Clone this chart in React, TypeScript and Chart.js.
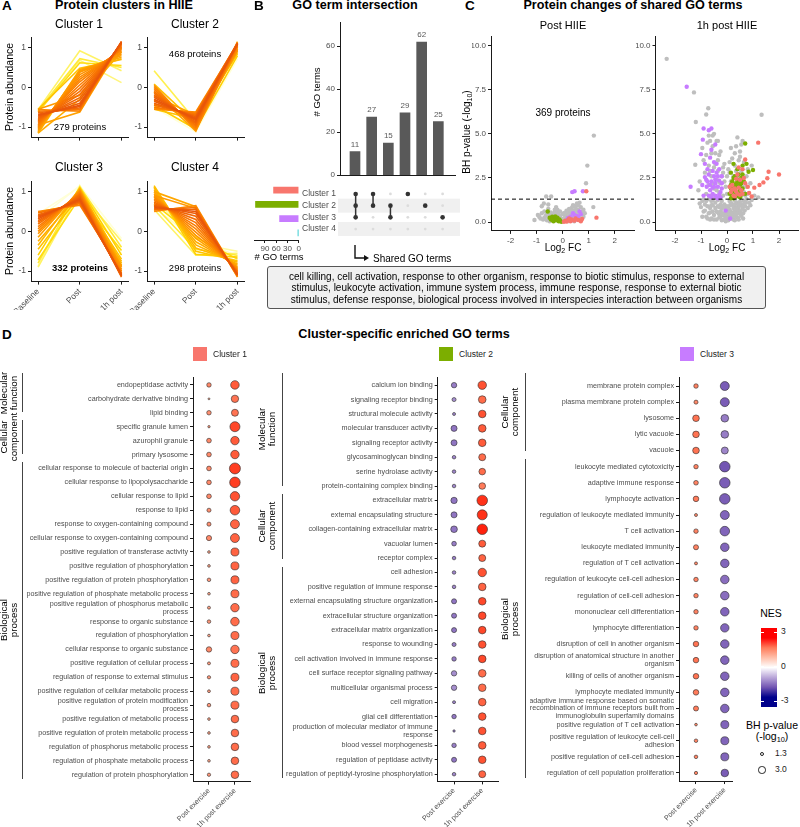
import React, { useEffect, useRef } from 'react';
import { Chart, registerables } from 'chart.js';

Chart.register(...registerables);

const FONT = '"Liberation Sans", Arial, Helvetica, sans-serif';
Chart.defaults.font.family = FONT;
Chart.defaults.font.size = 8;
Chart.defaults.color = '#4D4D4D';

const AXIS = '#1a1a1a';
const TICK_TEXT = '#4D4D4D';

// ---------- A: fuzzy cluster profiles (baseline, post, 1h post) ----------
const timepoints = ['Baseline', 'Post', '1h post'];
const clusterSizes = [279, 468, 332, 298];

const cluster1Profiles = [
  [-0.56, -0.6, 1.15], [-0.6, -0.56, 1.14], [-0.64, -0.52, 1.15], [-0.68, -0.48, 1.14], [-0.7, -0.45, 1.15],
  [-0.73, -0.4, 1.13], [-0.76, -0.33, 1.12], [-0.79, -0.26, 1.1], [-0.82, -0.18, 1.08], [-0.85, -0.1, 1.05],
  [-0.88, -0.02, 1.02], [-0.91, 0.06, 1.0], [-0.94, 0.14, 0.97], [-0.97, 0.2, 0.95], [-1.0, 0.26, 0.92],
  [-1.03, 0.32, 0.88], [-1.06, 0.38, 0.84], [-1.09, 0.42, 0.8], [-1.13, 0.45, 0.76], [-1.15, 0.4, 0.72],
  [-0.95, -0.62, 1.1], [-0.55, 0.48, 0.7], [-0.62, 0.62, 0.55], [-0.58, 0.72, 0.5], [-0.56, 0.92, 0.42],
  [-0.6, 0.68, 0.12], [-1.15, -0.3, 0.9], [-0.55, -0.2, 1.0],
];
const cluster1Membership = [
  0.8, 0.86, 0.92, 0.97, 1.0, 0.97, 0.95, 0.93, 0.91, 0.89, 0.87, 0.85, 0.83, 0.81, 0.79, 0.77, 0.75, 0.73, 0.7, 0.66,
  0.72, 0.6, 0.5, 0.45, 0.4, 0.38, 0.68, 0.74,
];

const cluster2Profiles = [
  [-0.55, -0.62, 1.1], [-0.5, -0.66, 1.12], [-0.45, -0.7, 1.1], [-0.4, -0.74, 1.12], [-0.35, -0.77, 1.1],
  [-0.3, -0.8, 1.1], [-0.25, -0.84, 1.08], [-0.2, -0.88, 1.12], [-0.15, -0.92, 1.06], [-0.1, -0.96, 1.1],
  [-0.05, -1.0, 1.04], [0.0, -1.04, 1.08], [0.05, -1.08, 1.02], [-0.52, -0.64, 0.98], [-0.42, -0.72, 0.96],
  [-0.32, -0.9, 0.92], [-0.22, -0.7, 0.95], [-0.12, -1.1, 1.15], [0.08, -0.9, 0.88], [0.42, -0.85, 1.0],
  [-0.5, -1.12, 0.72], [-0.45, -1.05, 0.8], [-0.55, -0.8, 0.85],
];
const cluster2Membership = [
  0.8, 0.86, 0.91, 0.95, 0.98, 1.0, 0.97, 0.94, 0.91, 0.88, 0.85, 0.82, 0.78, 0.75, 0.8, 0.76, 0.72, 0.7, 0.62, 0.42,
  0.3, 0.55, 0.6,
];

const cluster3Profiles = [
  [0.5, 0.66, -1.0], [0.46, 0.7, -1.05], [0.42, 0.74, -1.08], [0.38, 0.77, -1.1], [0.35, 0.8, -1.1],
  [0.31, 0.83, -1.12], [0.27, 0.86, -1.13], [0.23, 0.89, -1.15], [0.18, 0.92, -1.12], [0.12, 0.95, -1.08],
  [0.06, 0.98, -1.05], [0.0, 1.0, -1.0], [-0.06, 1.02, -0.95], [-0.15, 1.05, -0.9], [-0.25, 0.95, -0.85],
  [-0.35, 1.08, -0.8], [-0.45, 0.9, -0.7], [-0.6, 1.1, -0.6], [-0.72, 0.85, -0.48], [-0.8, 1.12, -0.4],
  [-0.9, 1.0, -0.25], [-0.88, 1.15, -0.85], [0.44, 1.12, -0.55], [0.3, 1.15, -0.18], [0.48, 0.7, -0.75],
  [0.4, 0.72, -0.88],
];
const cluster3Membership = [
  0.82, 0.88, 0.93, 0.97, 1.0, 0.97, 0.94, 0.91, 0.88, 0.85, 0.82, 0.79, 0.76, 0.72, 0.68, 0.64, 0.6, 0.55, 0.5, 0.45,
  0.4, 0.35, 0.3, 0.3, 0.65, 0.75,
];

const cluster4Profiles = [
  [0.5, 0.65, -1.12], [0.54, 0.6, -1.14], [0.57, 0.55, -1.1], [0.6, 0.5, -1.1], [0.63, 0.45, -1.08],
  [0.66, 0.38, -1.06], [0.7, 0.3, -1.04], [0.74, 0.22, -1.02], [0.78, 0.14, -1.0], [0.82, 0.06, -0.98],
  [0.86, -0.02, -0.95], [0.9, -0.1, -0.92], [0.95, -0.18, -0.9], [1.0, -0.26, -0.86], [1.05, -0.34, -0.82],
  [1.1, -0.42, -0.78], [1.15, -0.5, -0.74], [1.12, -0.58, -0.65], [0.7, -0.15, -0.7], [0.65, -0.45, -0.6],
  [0.55, -0.6, -0.55], [0.85, -0.3, -0.5], [0.6, -0.2, -0.62], [1.0, 0.62, -1.15], [0.9, 0.58, -1.12],
];
const cluster4Membership = [
  0.8, 0.88, 0.94, 1.0, 0.97, 0.94, 0.91, 0.88, 0.85, 0.82, 0.79, 0.76, 0.73, 0.7, 0.67, 0.64, 0.6, 0.55, 0.5, 0.45,
  0.4, 0.35, 0.32, 0.7, 0.75,
];

// ---------- B: GO term intersections ----------
const clusterNames = ['Cluster 1', 'Cluster 2', 'Cluster 3', 'Cluster 4'];
const clusterColors = ['#F8766D', '#7CAE00', '#C77CFF', '#00BFC4'];
const clusterSetSizes = [67, 115, 51, 2];
const intersectionCounts = [11, 27, 15, 29, 62, 25];
const intersectionMembers = [[0, 1, 2], [0, 1], [1, 2], [0], [1], [2]];

// ---------- C: volcano plots of shared GO term proteins ----------
const significanceLine = 1.3;
const postGray = [
  [1.2, 4.9], [0.95, 3.2], [0.9, 2.2], [1.18, 0.85], [-1.08, 0.12], [-0.63, 1.45], [-0.44, 1.45], [-0.72, 1.05],
  [-0.8, 0.5], [-0.65, 0.35], [-0.55, 0.75], [-0.5, 0.45], [-0.4, 0.3], [-0.3, 0.55], [-0.25, 0.2], [-0.15, 0.4],
  [-0.05, 0.15], [0.1, 0.3], [0.2, 0.55], [0.3, 0.45], [0.35, 0.8], [0.45, 0.9], [0.5, 0.65], [0.55, 1.05],
  [0.6, 0.7], [0.4, 0.25], [0.25, 0.1], [-0.35, 0.1], [-0.9, 0.3], [0.7, 0.55], [0.65, 1.1], [0.15, 0.65],
  [-0.2, 0.7], [0.05, 0.5], [-0.45, 0.15], [0.45, 0.05], [-0.6, 0.1], [0.8, 0.3],
  [-0.85, 0.2], [-0.75, 0.15], [-0.7, 0.6], [-0.6, 0.45], [-0.5, 0.05], [-0.45, 0.55], [-0.35, 0.35], [-0.3, 0.7],
  [-0.2, 0.5], [-0.1, 0.3], [0.0, 0.45], [0.05, 0.2], [0.15, 0.15], [0.2, 0.35], [0.3, 0.2], [0.35, 0.55],
  [0.4, 0.65], [0.5, 0.45], [0.55, 0.2], [0.6, 0.5], [0.65, 0.3], [0.7, 0.85], [0.75, 0.6], [0.5, 0.85],
  [0.25, 0.75], [-0.1, 0.6], [-0.55, 1.0], [-0.95, 0.4], [0.85, 0.5], [0.6, 0.95], [0.4, 0.95], [-0.25, 0.85],
  [-0.8, 0.9], [-0.7, 0.25], [-0.4, 0.45], [-0.15, 0.15], [0.1, 0.5], [0.3, 0.65], [0.45, 0.3], [0.55, 0.6],
  [0.8, 0.7], [-0.5, 0.3], [0.0, 0.1], [0.2, 0.05],
];
const postGreen = [
  [-0.57, 0.6], [-0.5, 0.25], [-0.45, 0.15], [-0.4, 0.3], [-0.35, 0.05], [-0.3, 0.2], [-0.25, 0.1], [-0.2, 0.25],
  [-0.15, 0.05], [-0.12, 0.15], [-0.05, 0.02], [-0.38, 0.1], [-0.28, 0.32], [-0.1, 0.08],
];
const postRed = [
  [0.91, 1.75], [1.3, 0.25], [0.05, 0.02], [0.1, 0.08], [0.15, 0.03], [0.2, 0.1], [0.3, 0.05], [0.35, 0.15],
  [0.45, 0.08], [0.5, 0.2], [0.6, 0.12], [0.7, 0.05], [0.75, 0.18], [0.25, 0.2],
];
const postPurple = [
  [0.37, 1.7], [0.46, 1.75], [0.78, 1.75], [0.65, 0.6], [0.7, 0.45], [0.55, 0.35], [0.4, 0.5], [0.3, 0.3],
  [0.5, 0.15], [0.2, 0.22], [0.6, 0.25], [0.45, 0.4], [0.35, 0.1],
];
const hourGray = [
  [-2.32, 9.25], [-1.27, 7.35], [-0.72, 6.45], [-0.8, 6.1], [-1.2, 5.67], [1.33, 6.08], [0.6, 4.6], [-1.22, 3.25],
  [-0.95, 4.2], [-0.75, 4.5], [-0.65, 4.6], [-0.55, 4.3], [-0.45, 3.9], [-0.9, 3.5], [-0.7, 3.2], [-0.5, 3.1],
  [-0.35, 2.9], [-0.6, 2.6], [-0.4, 2.4], [-0.25, 2.2], [-0.7, 2.1], [-0.5, 1.9], [-0.3, 1.7], [-0.15, 1.5],
  [-0.45, 1.4], [-0.2, 1.2], [-0.1, 1.0], [-0.35, 0.9], [-0.05, 0.7], [-0.25, 0.6], [-0.15, 0.4], [0.0, 0.2],
  [-0.05, 0.05], [0.05, 0.1], [0.1, 0.35], [0.15, 0.6], [0.05, 0.8], [0.2, 1.0], [0.1, 1.2], [0.3, 1.25],
  [0.25, 0.5], [0.35, 0.85], [-0.4, 0.6], [-0.55, 0.95], [-0.3, 0.25], [0.4, 1.1], [0.45, 0.7], [-0.9, 0.6],
  [-1.0, 0.85], [0.6, 1.0], [0.5, 1.4], [0.7, 1.5], [0.8, 1.6], [0.6, 2.0], [0.4, 2.5], [0.55, 2.9], [0.3, 3.2],
  [0.45, 3.5], [0.65, 3.4], [0.2, 3.6], [0.5, 4.0], [0.8, 3.0], [0.9, 2.2], [1.05, 1.5], [-0.15, 2.8], [-0.05, 2.0],
  [-0.1, 3.3], [-0.35, 3.5], [-0.25, 4.0], [-0.85, 2.8], [-1.05, 2.3], [-0.8, 1.6], [-0.6, 1.2], [-0.75, 0.9],
  [0.0, 1.6], [0.15, 2.3], [0.05, 3.0], [0.3, 1.8], [0.75, 2.6], [0.95, 3.2], [-0.5, 5.0], [-0.35, 4.6], [0.35, 4.3],
  [-1.1, 1.8], [-0.95, 1.2], [0.85, 1.1], [1.2, 1.4], [0.25, 0.15], [-0.2, 0.1],
  [-0.8, 0.3], [-0.7, 0.5], [-0.6, 0.2], [-0.5, 0.4], [-0.45, 0.8], [-0.4, 0.15], [-0.3, 0.45], [-0.25, 1.0],
  [-0.2, 0.75], [-0.1, 0.5], [-0.05, 0.3], [0.0, 0.45], [0.05, 0.5], [0.1, 0.7], [0.15, 0.2], [0.2, 0.4],
  [0.25, 0.8], [0.3, 0.6], [0.35, 0.3], [0.4, 0.5], [0.45, 0.9], [0.5, 0.6], [0.55, 0.35], [0.6, 0.75],
  [0.65, 1.2], [0.7, 0.9], [0.75, 1.3], [-0.65, 0.8], [-0.7, 1.3], [-0.85, 1.0], [-0.55, 1.25], [-0.35, 1.25],
  [0.5, 1.15], [0.35, 1.05], [0.15, 1.1], [0.0, 0.9], [-0.15, 0.9], [-0.6, 1.5], [-0.4, 1.8], [-0.3, 2.3],
  [-0.2, 2.6], [-0.1, 2.3], [0.0, 2.6], [0.1, 2.8], [0.2, 2.0], [0.25, 2.6], [0.35, 2.9], [0.45, 2.2],
  [0.55, 2.0], [0.65, 1.7], [0.75, 2.0], [-0.55, 2.2], [-0.65, 2.9], [-0.45, 3.3], [-0.3, 3.8], [-0.15, 3.1],
  [0.1, 3.4], [0.3, 3.9], [0.5, 3.7], [-0.6, 3.9], [-0.8, 3.8], [-0.4, 4.6], [-0.55, 4.9], [-0.7, 4.9],
  [0.15, 4.2], [0.4, 4.8], [0.55, 4.4],
  [-0.95, 0.3], [-0.85, 0.65], [-0.75, 0.2], [-0.65, 0.55], [-0.55, 0.6], [-0.5, 0.15], [-0.45, 1.1], [-0.35, 0.55],
  [-0.3, 0.85], [-0.25, 0.3], [-0.2, 0.5], [-0.12, 0.15], [-0.08, 0.85], [0.02, 0.6], [0.08, 0.25], [0.12, 0.95],
  [0.18, 0.5], [0.22, 0.25], [0.28, 1.0], [0.32, 0.4], [0.38, 0.7], [0.42, 0.25], [0.48, 1.0], [0.52, 0.45],
  [0.58, 0.9], [0.62, 0.5], [0.68, 0.65], [0.72, 1.1], [0.8, 0.8], [0.9, 0.95], [-1.05, 1.05], [-0.9, 1.3],
  [-0.8, 1.2], [0.95, 1.25], [-0.6, 0.95], [0.3, 0.1], [-0.1, 0.15], [0.45, 0.15], [0.62, 0.2], [-0.65, 0.15],
];
const hourPurple = [
  [-1.55, 7.67], [-1.4, 2.0], [-0.9, 5.3], [-0.6, 5.3], [-0.7, 5.2], [-0.93, 4.67], [-1.0, 3.85], [-0.65, 3.65],
  [-0.55, 2.9], [-0.85, 2.55], [-0.3, 2.35], [-0.78, 2.0], [-0.55, 1.6], [-0.25, 1.4], [-0.45, 4.4], [-0.6, 4.1],
  [-0.4, 3.3], [-0.75, 3.0], [-0.5, 2.6], [-0.35, 2.0], [-0.65, 1.8], [-0.45, 1.5], [-0.2, 1.9], [-0.3, 1.55],
  [-0.6, 2.3], [-0.4, 2.8], [-0.7, 2.7], [-0.2, 2.6], [-0.5, 3.4], [-0.85, 3.3], [0.12, 0.2], [-0.05, 0.65],
  [-0.95, 2.1], [-0.35, 1.35],
  [-0.9, 1.5], [-0.8, 2.4], [-0.7, 1.5], [-0.55, 1.95], [-0.45, 2.2], [-0.35, 2.6], [-0.25, 1.7], [-0.5, 2.0],
  [-0.65, 2.1], [-0.3, 3.0], [-0.45, 2.4], [-0.6, 1.4], [-0.4, 1.4], [-0.2, 2.2], [-0.75, 2.3],
];
const hourGreen = [
  [0.7, 4.45], [0.25, 3.3], [0.83, 2.85], [1.0, 2.95], [0.15, 2.8], [0.3, 2.6], [0.45, 2.7], [0.55, 2.5],
  [0.2, 2.3], [0.35, 2.2], [0.5, 2.1], [0.65, 2.3], [0.15, 1.9], [0.3, 1.8], [0.45, 1.7], [0.6, 1.9], [0.2, 1.5],
  [0.35, 1.45], [0.5, 1.4], [0.25, 1.35], [0.4, 3.0], [0.6, 3.2], [0.75, 3.3], [0.1, 1.6], [0.55, 1.55],
  [0.4, 2.0], [0.25, 2.0], [0.7, 1.6], [0.15, 1.35],
  [0.2, 1.7], [0.3, 2.05], [0.4, 2.4], [0.5, 1.85], [0.35, 1.6], [0.45, 2.3], [0.25, 2.5], [0.6, 2.7],
  [0.15, 2.1], [0.55, 2.2],
];
const hourRed = [
  [1.2, 4.5], [2.0, 2.7], [1.6, 2.85], [1.55, 2.48], [1.4, 2.25], [1.25, 2.1], [1.05, 1.95], [0.7, 3.55],
  [0.6, 3.0], [0.35, 2.45], [0.2, 2.1], [0.4, 1.6], [0.55, 1.8], [0.8, 2.0], [0.25, 1.5], [0.15, 1.7], [0.5, 2.4],
  [0.3, 1.9], [0.85, 1.65], [0.65, 2.5], [0.1, 2.0], [0.45, 3.1], [0.95, 1.45],
  [0.3, 1.45], [0.45, 1.95], [0.6, 1.6], [0.2, 1.85], [0.5, 1.55], [0.7, 2.2], [0.4, 2.7], [0.35, 1.75],
];
const sharedTerms = [
  'cell killing, cell activation, response to other organism, response to biotic stimulus, response to external',
  'stimulus, leukocyte activation, immune system process, immune response, response to external biotic',
  'stimulus, defense response, biological process involved in interspecies interaction between organisms',
];

// ---------- D: cluster-specific enriched GO terms ----------
const exerciseLabels = ['Post exercise', '1h post exercise'];
const NES_LIMIT = 3;

const cluster1Terms = [
  'endopeptidase activity', 'carbohydrate derivative binding', 'lipid binding',
  'specific granule lumen', 'azurophil granule', 'primary lysosome',
  'cellular response to molecule of bacterial origin', 'cellular response to lipopolysaccharide',
  'cellular response to lipid', 'response to lipid', 'response to oxygen-containing compound',
  'cellular response to oxygen-containing compound', 'positive regulation of transferase activity',
  'positive regulation of phosphorylation', 'positive regulation of protein phosphorylation',
  'positive regulation of phosphate metabolic process', 'positive regulation of phosphorus metabolic\nprocess',
  'response to organic substance', 'regulation of phosphorylation', 'cellular response to organic substance',
  'positive regulation of cellular process', 'regulation of response to external stimulus',
  'positive regulation of cellular metabolic process', 'positive regulation of protein modification\nprocess',
  'positive regulation of metabolic process', 'positive regulation of protein metabolic process',
  'regulation of phosphorus metabolic process', 'regulation of phosphate metabolic process',
  'regulation of protein phosphorylation',
];
const cluster1Groups: [string, number][] = [['Molecular\nfunction', 3], ['Cellular\ncomponent', 3], ['Biological\nprocess', 23]];
const cluster1PostNES = [1.8, 1.4, 1.7, 1.5, 1.8, 1.8, 1.8, 1.8, 1.8, 1.7, 1.7, 1.8, 1.4, 1.4, 1.6, 1.4, 1.5, 1.6, 1.4, 1.8, 1.5, 1.6, 1.5, 1.6, 1.4, 1.4, 1.4, 1.4, 1.6];
const cluster1PostP = [1.1, 0.2, 1.1, 0.3, 1.2, 1.2, 1.2, 1.2, 1.2, 0.9, 0.9, 1.5, 0.4, 0.4, 0.7, 0.4, 0.5, 0.7, 0.4, 1.6, 0.5, 0.6, 0.45, 0.7, 0.4, 0.4, 0.4, 0.4, 0.6];
const cluster1HourNES = [2.4, 2.1, 2.1, 2.6, 2.4, 2.4, 2.7, 2.7, 2.5, 2.4, 2.3, 2.3, 2.3, 2.3, 2.3, 2.2, 2.2, 2.2, 2.2, 2.1, 2.2, 2.3, 2.2, 2.2, 2.2, 2.2, 2.2, 2.2, 2.2];
const cluster1HourP = [4.0, 3.0, 2.7, 5.5, 3.9, 3.9, 6.6, 6.1, 4.8, 5.0, 4.4, 4.4, 3.5, 3.5, 3.5, 3.5, 3.9, 4.0, 3.5, 3.9, 3.5, 3.5, 3.5, 3.5, 3.2, 3.2, 3.2, 3.2, 3.2];

const cluster2Terms = [
  'calcium ion binding', 'signaling receptor binding', 'structural molecule activity', 'molecular transducer activity',
  'signaling receptor activity', 'glycosaminoglycan binding', 'serine hydrolase activity', 'protein-containing complex binding',
  'extracellular matrix', 'external encapsulating structure', 'collagen-containing extracellular matrix', 'vacuolar lumen',
  'receptor complex', 'cell adhesion', 'positive regulation of immune response', 'external encapsulating structure organization',
  'extracellular structure organization', 'extracellular matrix organization', 'response to wounding',
  'cell activation involved in immune response', 'cell surface receptor signaling pathway', 'multicellular organismal process',
  'cell migration', 'glial cell differentiation', 'production of molecular mediator of immune\nresponse',
  'blood vessel morphogenesis', 'regulation of peptidase activity', 'regulation of peptidyl-tyrosine phosphorylation',
];
const cluster2Groups: [string, number][] = [['Molecular\nfunction', 8], ['Cellular\ncomponent', 5], ['Biological\nprocess', 15]];
const cluster2PostNES = [-1.5, -1.3, -1.4, -1.6, -1.6, -1.4, -1.4, -1.4, -1.6, -1.6, -1.6, -1.5, -1.5, -1.4, -1.4, -1.6, -1.6, -1.6, -1.5, -1.5, -1.3, -1.3, -1.4, -1.6, -1.4, -1.5, -1.6, -1.4];
const cluster2PostP = [1.6, 0.9, 0.5, 2.0, 2.0, 0.7, 0.7, 0.7, 2.2, 2.0, 2.4, 1.2, 0.7, 0.7, 0.7, 1.4, 1.4, 1.4, 0.9, 1.1, 1.6, 1.6, 0.5, 1.1, 0.3, 1.1, 1.4, 0.7];
const cluster2HourNES = [2.5, 2.2, 2.5, 2.4, 2.4, 2.2, 2.2, 2.0, 2.8, 2.8, 2.9, 2.4, 2.3, 2.5, 2.3, 2.6, 2.6, 2.6, 2.5, 2.6, 2.2, 2.2, 2.3, 2.5, 2.5, 2.4, 2.5, 2.3];
const cluster2HourP = [3.9, 3.2, 3.2, 3.2, 3.2, 2.7, 2.4, 2.4, 6.1, 5.5, 6.1, 2.7, 2.7, 3.9, 3.2, 3.2, 3.2, 3.2, 3.2, 3.2, 3.2, 3.2, 3.2, 3.2, 3.2, 3.2, 3.2, 2.7];

const cluster3Terms = [
  'membrane protein complex', 'plasma membrane protein complex', 'lysosome', 'lytic vacuole', 'vacuole',
  'leukocyte mediated cytotoxicity', 'adaptive immune response', 'lymphocyte activation',
  'regulation of leukocyte mediated immunity', 'T cell activation', 'leukocyte mediated immunity',
  'regulation of T cell activation', 'regulation of leukocyte cell-cell adhesion', 'regulation of cell-cell adhesion',
  'mononuclear cell differentiation', 'lymphocyte differentiation', 'disruption of cell in another organism',
  'disruption of anatomical structure in another\norganism', 'killing of cells of another organism',
  'lymphocyte mediated immunity',
  'adaptive immune response based on somatic\nrecombination of immune receptors built from\nimmunoglobulin superfamily domains',
  'positive regulation of T cell activation', 'positive regulation of leukocyte cell-cell\nadhesion',
  'positive regulation of cell-cell adhesion', 'regulation of cell population proliferation',
];
const cluster3Groups: [string, number][] = [['Cellular\ncomponent', 5], ['Biological\nprocess', 20]];
const cluster3PostNES = [1.9, 1.8, 2.1, 2.1, 2.1, 1.9, 1.9, 2.0, 1.8, 1.9, 1.9, 1.8, 1.9, 1.9, 1.9, 1.9, 2.1, 2.1, 2.1, 2.0, 2.0, 1.8, 1.9, 1.9, 1.9];
const cluster3PostP = [1.1, 0.9, 2.4, 2.4, 2.4, 1.1, 1.2, 1.7, 0.5, 1.1, 1.4, 0.5, 1.1, 1.1, 1.1, 1.1, 1.7, 1.7, 1.7, 1.7, 1.4, 0.4, 0.7, 0.7, 0.6];
const cluster3HourNES = [-1.9, -1.9, -1.5, -1.5, -1.4, -2.0, -1.9, -1.9, -1.8, -1.8, -1.8, -1.8, -1.7, -1.7, -1.8, -1.8, -1.8, -1.8, -1.8, -1.8, -1.8, -1.8, -1.8, -1.8, -1.9];
const cluster3HourP = [4.4, 4.4, 3.2, 3.2, 2.7, 6.1, 6.1, 6.1, 4.4, 5.0, 4.0, 4.0, 4.0, 4.0, 4.0, 3.9, 4.0, 4.0, 4.0, 4.0, 4.0, 3.5, 3.5, 3.5, 3.2];

const pLegendValues = [1.3, 3.0];

// ---------- colour helpers ----------
const lin = (c: number) => { c /= 255; return c <= 0.04045 ? c / 12.92 : Math.pow((c + 0.055) / 1.055, 2.4); };
const gam = (c: number) => {
  const v = c <= 0.0031308 ? 12.92 * c : 1.055 * Math.pow(c, 1 / 2.4) - 0.055;
  return Math.round(Math.min(1, Math.max(0, v)) * 255);
};
function toLab(hex: string) {
  const n = parseInt(hex.slice(1), 16);
  const r = lin((n >> 16) & 255), g = lin((n >> 8) & 255), b = lin(n & 255);
  const X = (0.4124 * r + 0.3576 * g + 0.1805 * b) / 0.95047;
  const Y = 0.2126 * r + 0.7152 * g + 0.0722 * b;
  const Z = (0.0193 * r + 0.1192 * g + 0.9505 * b) / 1.08883;
  const f = (t: number) => (t > 0.008856 ? Math.cbrt(t) : 7.787 * t + 16 / 116);
  const fx = f(X), fy = f(Y), fz = f(Z);
  return [116 * fy - 16, 500 * (fx - fy), 200 * (fy - fz)];
}
function fromLab(L: number, a: number, b: number) {
  const fy = (L + 16) / 116, fx = fy + a / 500, fz = fy - b / 200;
  const fi = (t: number) => (t * t * t > 0.008856 ? t * t * t : (t - 16 / 116) / 7.787);
  const X = fi(fx) * 0.95047, Y = fi(fy), Z = fi(fz) * 1.08883;
  const r = 3.2406 * X - 1.5372 * Y - 0.4986 * Z;
  const g = -0.9689 * X + 1.8758 * Y + 0.0415 * Z;
  const bl = 0.0557 * X - 0.204 * Y + 1.057 * Z;
  return `rgb(${gam(r)},${gam(g)},${gam(bl)})`;
}
const LAB_LOW = toLab('#00008B');
const LAB_MID = toLab('#FFFFFF');
const LAB_HIGH = toLab('#FF0000');
function nesColor(v: number) {
  const t = Math.max(-1, Math.min(1, v / NES_LIMIT));
  const end = t >= 0 ? LAB_HIGH : LAB_LOW;
  const k = Math.abs(t);
  return fromLab(
    LAB_MID[0] + (end[0] - LAB_MID[0]) * k,
    LAB_MID[1] + (end[1] - LAB_MID[1]) * k,
    LAB_MID[2] + (end[2] - LAB_MID[2]) * k,
  );
}
const bubbleRadius = (p: number) => 2.14 * Math.sqrt(p);

const membershipStops: [number, number[]][] = [
  [0.3, [255, 255, 215]], [0.42, [255, 240, 80]], [0.52, [255, 215, 0]], [0.62, [255, 190, 0]],
  [0.74, [255, 155, 0]], [0.86, [250, 120, 0]], [1.0, [232, 86, 10]],
];
function membershipColor(m: number) {
  if (m <= membershipStops[0][0]) return `rgb(${membershipStops[0][1].join(',')})`;
  for (let i = 1; i < membershipStops.length; i++) {
    const [m1, c1] = membershipStops[i];
    const [m0, c0] = membershipStops[i - 1];
    if (m <= m1) {
      const k = (m - m0) / (m1 - m0);
      return `rgb(${c0.map((c, j) => Math.round(c + (c1[j] - c) * k)).join(',')})`;
    }
  }
  return `rgb(${membershipStops[membershipStops.length - 1][1].join(',')})`;
}

// ---------- chart option helpers ----------
// Chart.js paints dataset 0 last, so every datasets list below runs from the top layer down.
function baseOptions(padding: any, extra: any) {
  return {
    animation: false,
    responsive: false,
    maintainAspectRatio: false,
    events: [],
    layout: { autoPadding: false, padding: { top: 0, right: 0, bottom: 0, left: 0, ...padding } },
    plugins: { legend: { display: false }, tooltip: { enabled: false } },
    ...extra,
  };
}
function axis(opts: any = {}) {
  const { ticks = {}, grid = {}, border = {}, ...rest } = opts;
  return {
    border: { display: true, color: AXIS, width: 1, ...border },
    grid: { display: true, drawOnChartArea: false, drawTicks: true, tickLength: 3, color: AXIS, ...grid },
    ticks: { color: TICK_TEXT, font: { size: 8 }, padding: 2, autoSkip: false, ...ticks },
    ...rest,
  };
}

function clusterChart(profiles: number[][], membership: number[], showLabels: boolean, xAxisH: number, yAxisW: number) {
  // highest membership first = painted on top
  const order = membership.map((_, i) => i).sort((a, b) => membership[b] - membership[a]);
  const datasets = order.map((i) => ({
    type: 'line',
    data: profiles[i].map((v, t) => ({ x: t, y: v })),
    borderColor: membershipColor(membership[i]),
    borderWidth: 1.6,
    pointRadius: 0,
    tension: 0,
  }));
  return {
    type: 'line',
    data: { datasets },
    options: baseOptions({ top: 6.4, right: 5.4 }, {
      scales: {
        x: axis({
          type: 'linear', min: -0.17, max: 2.17,
          ticks: {
            stepSize: 1, includeBounds: false, minRotation: 45, maxRotation: 45, font: { size: 8.5 },
            callback: (v: number) => (showLabels ? timepoints[v] ?? '' : ''),
          },
          afterFit: (s: any) => { s.height = xAxisH; },
        }),
        y: axis({
          min: -1.265, max: 1.265,
          ticks: { stepSize: 1, includeBounds: false, font: { size: 8.5 } },
          afterFit: (s: any) => { s.width = yAxisW; },
        }),
      },
    }),
  };
}

const barValueLabels = {
  id: 'barValueLabels',
  afterDatasetsDraw(chart: any) {
    const { ctx } = chart;
    const meta = chart.getDatasetMeta(0);
    ctx.save();
    ctx.fillStyle = '#595959';
    ctx.font = `8px ${FONT}`;
    ctx.textAlign = 'center';
    ctx.textBaseline = 'middle';
    meta.data.forEach((el: any, i: number) => {
      ctx.fillText(String(intersectionCounts[i]), el.x, el.y - 7);
    });
    ctx.restore();
  },
};

function upsetBarChart() {
  return {
    type: 'bar',
    data: {
      datasets: [{
        data: intersectionCounts.map((v, i) => ({ x: i, y: v })),
        backgroundColor: '#595959',
        barThickness: 10,
      }],
    },
    options: baseOptions({ top: 7, right: 5 }, {
      scales: {
        x: axis({
          type: 'linear', min: -0.9, max: 6.0, offset: false, bounds: 'data',
          ticks: { display: false }, grid: { display: false, offset: false },
          afterFit: (s: any) => { s.height = 1; },
        }),
        y: axis({ min: 0, max: 71.3, ticks: { stepSize: 20, includeBounds: false }, afterFit: (s: any) => { s.width = 17; } }),
      },
    }),
    plugins: [barValueLabels],
  };
}

const matrixStripes = {
  id: 'matrixStripes',
  beforeDatasetsDraw(chart: any) {
    const { ctx, chartArea, scales } = chart;
    ctx.save();
    ctx.fillStyle = '#F0F0F0';
    clusterNames.forEach((name, i) => {
      if (i % 2 === 1) {
        const y = scales.y.getPixelForValue(i);
        ctx.fillRect(chartArea.left - 2, y - 7, chartArea.right - chartArea.left + 2, 14);
      }
    });
    ctx.restore();
  },
};

function upsetMatrixChart() {
  const empty: any[] = [];
  intersectionCounts.forEach((_, i) => clusterNames.forEach((c) => empty.push({ x: i, y: c })));
  const filled: any[] = [];
  intersectionMembers.forEach((m, i) => m.forEach((k) => filled.push({ x: i, y: clusterNames[k] })));
  const links: any[] = [];
  intersectionMembers.forEach((m, i) => {
    if (m.length > 1) {
      links.push({
        type: 'line',
        data: [{ x: i, y: clusterNames[Math.min(...m)] }, { x: i, y: clusterNames[Math.max(...m)] }],
        borderColor: '#333333',
        borderWidth: 1.5,
        pointRadius: 0,
      });
    }
  });
  return {
    type: 'scatter',
    data: {
      datasets: [
        { data: filled, pointBackgroundColor: '#333333', pointBorderColor: '#333333', pointBorderWidth: 0, pointRadius: 2.3 },
        ...links,
        { data: empty, pointBackgroundColor: '#DCDCDC', pointBorderColor: '#DCDCDC', pointBorderWidth: 0, pointRadius: 1.4 },
      ],
    },
    options: baseOptions({}, {
      scales: {
        x: { type: 'linear', min: -0.9, max: 6.0, display: false },
        y: {
          type: 'category', labels: clusterNames, offset: true,
          border: { display: false }, grid: { display: false },
          ticks: { crossAlign: 'far', color: TICK_TEXT, font: { size: 8.5 }, padding: 0, autoSkip: false },
          afterFit: (s: any) => { s.width = 38; },
        },
      },
    }),
    plugins: [matrixStripes],
  };
}

function setSizeChart() {
  return {
    type: 'bar',
    data: {
      labels: clusterNames,
      datasets: [{ data: clusterSetSizes, backgroundColor: clusterColors, barThickness: 6 }],
    },
    options: baseOptions({ left: 4, right: 2 }, {
      indexAxis: 'y',
      scales: {
        x: axis({
          reverse: true, min: 0, max: 119,
          ticks: { stepSize: 30, includeBounds: false, padding: 1, minRotation: 0, maxRotation: 0 },
          afterFit: (s: any) => { s.height = 13; },
        }),
        y: { display: false },
      },
    }),
  };
}

function volcanoChart(groups: { points: number[][]; color: string }[], leftW: number, rightPad: number) {
  // groups are listed bottom layer first; the dashed threshold sits above them all
  const datasets: any[] = [{
    type: 'line',
    data: [{ x: -2.75, y: significanceLine }, { x: 2.75, y: significanceLine }],
    borderColor: '#000',
    borderWidth: 1,
    borderDash: [4, 3],
    pointRadius: 0,
  }];
  [...groups].reverse().forEach((g) => datasets.push({
    type: 'scatter',
    data: g.points.map(([x, y]) => ({ x, y })),
    pointBackgroundColor: g.color,
    pointBorderWidth: 0,
    pointRadius: 2.2,
  }));
  return {
    type: 'scatter',
    data: { datasets },
    options: baseOptions({ top: 4.4, right: rightPad }, {
      scales: {
        x: axis({ type: 'linear', min: -2.75, max: 2.75, ticks: { stepSize: 1, includeBounds: false }, afterFit: (s: any) => { s.height = 19.1; } }),
        y: axis({
          min: -0.5, max: 10.5,
          ticks: { stepSize: 2.5, includeBounds: false, callback: (v: number) => v.toFixed(1) },
          afterFit: (s: any) => { s.width = leftW; },
        }),
      },
    }),
  };
}

type DotGeom = { canvasLeft: number; left: number; right: number; canvasRight: number; top: number; bottom: number; xmin: number; xmax: number; bracketX: number; labelX: number };

const DOT_CANVAS_TOP = 372;
const DOT_CANVAS_BOTTOM = 827;

function dotChart(terms: string[], postNES: number[], postP: number[], hourNES: number[], hourP: number[], g: DotGeom) {
  const mk = (nes: number[], pv: number[], xi: number) => ({
    data: terms.map((t) => ({ x: xi, y: t })),
    pointRadius: pv.map(bubbleRadius),
    pointBackgroundColor: nes.map(nesColor),
    pointBorderColor: '#2b2b2b',
    pointBorderWidth: 0.6,
  });
  return {
    type: 'scatter',
    data: { datasets: [mk(postNES, postP, 0), mk(hourNES, hourP, 1)] },
    options: baseOptions({ top: g.top - DOT_CANVAS_TOP, right: g.canvasRight - g.right }, {
      scales: {
        x: axis({
          type: 'linear', min: g.xmin, max: g.xmax,
          ticks: {
            stepSize: 1, includeBounds: false, minRotation: 45, maxRotation: 45, font: { size: 7.2 },
            callback: (v: number) => exerciseLabels[v] ?? '',
          },
          afterFit: (s: any) => { s.height = DOT_CANVAS_BOTTOM - g.bottom; },
        }),
        y: axis({
          type: 'category', labels: terms, offset: true,
          grid: { offset: false },
          ticks: {
            font: { size: 7.2, lineHeight: 1.1 },
            callback: function (this: any, v: number) { return String(this.getLabelForValue(v)).split('\n'); },
          },
          afterFit: (s: any) => { s.width = g.left - g.canvasLeft; },
        }),
      },
    }),
  };
}

const geom1: DotGeom = { canvasLeft: 0, left: 193, right: 250, canvasRight: 253, top: 373.7, bottom: 781.7, xmin: -0.615, xmax: 1.58, bracketX: 22, labelX: 9 };
const geom2: DotGeom = { canvasLeft: 280, left: 437.7, right: 498.3, canvasRight: 502, top: 373.4, bottom: 781.4, xmin: -0.58, xmax: 1.57, bracketX: 282, labelX: 267 };
const geom3: DotGeom = { canvasLeft: 530, left: 679, right: 732, canvasRight: 736, top: 373.55, bottom: 781.05, xmin: -0.59, xmax: 1.25, bracketX: 525, labelX: 510 };

// ---------- components ----------
function ChartBox({ x, y, w, h, make }: any) {
  const ref = useRef<HTMLCanvasElement | null>(null);
  useEffect(() => {
    if (!ref.current) return;
    const chart = new Chart(ref.current, make());
    return () => chart.destroy();
  }, []);
  return <canvas ref={ref} width={w} height={h} style={{ position: 'absolute', left: x, top: y, width: w, height: h }} />;
}

function T({ x, y, children, size = 10, weight = 'normal', color = '#000', align = 'center', rotate = 0, lh = 1.1 }: any) {
  const tx = align === 'center' ? '-50%' : align === 'right' ? '-100%' : '0';
  return (
    <div
      style={{
        position: 'absolute', left: x, top: y,
        transform: `translate(${tx},-50%) rotate(${rotate}deg)`,
        fontSize: size, fontWeight: weight, color, whiteSpace: 'pre', textAlign: 'center',
        lineHeight: lh, fontFamily: FONT,
      }}
    >
      {children}
    </div>
  );
}

function Brackets({ groups, n, g }: { groups: [string, number][]; n: number; g: DotGeom }) {
  const step = (g.bottom - g.top) / n;
  let start = 0;
  return (
    <>
      {groups.map(([name, count], gi) => {
        const first = g.top + (start + 0.5) * step;
        const last = g.top + (start + count - 0.5) * step;
        start += count;
        const y0 = first - step / 2 + (gi === 0 ? -0.5 : 4);
        const y1 = last + step / 2 - (gi === groups.length - 1 ? 3 : 4);
        return (
          <React.Fragment key={name + gi}>
            <div style={{ position: 'absolute', left: g.bracketX, top: y0, width: 1.3, height: y1 - y0, background: '#444' }} />
            <T x={g.labelX} y={(y0 + y1) / 2} size={9.8} rotate={-90} lh={1.0}>{name}</T>
          </React.Fragment>
        );
      })}
    </>
  );
}

export default function App() {
  const barColors = [3.4, 3, 2, 1, 0, -1, -2, -3, -3.5];
  const gradient = `linear-gradient(to bottom, ${barColors.map((v, i) => `${nesColor(v)} ${(i / (barColors.length - 1)) * 100}%`).join(', ')})`;
  const nesToY = (v: number) => 666.5 - v * 11.5;
  const sub = (s: string) => <sub style={{ fontSize: '0.7em', verticalAlign: '-0.25em' }}>{s}</sub>;

  return (
    <div style={{ position: 'absolute', left: 0, top: 0, width: 800, height: 827, background: '#fff', overflow: 'hidden', fontFamily: FONT }}>
      {/* A */}
      <ChartBox x={0} y={30} w={134} h={115} make={() => clusterChart(cluster1Profiles, cluster1Membership, false, 7.4, 31)} />
      <ChartBox x={118} y={30} w={132} h={115} make={() => clusterChart(cluster2Profiles, cluster2Membership, false, 7.4, 29)} />
      <ChartBox x={0} y={174} w={134} h={136} make={() => clusterChart(cluster3Profiles, cluster3Membership, true, 28.4, 31)} />
      <ChartBox x={118} y={174} w={132} h={136} make={() => clusterChart(cluster4Profiles, cluster4Membership, true, 28.4, 29)} />

      {/* B */}
      <ChartBox x={323} y={15} w={137} h={167} make={upsetBarChart} />
      <ChartBox x={302} y={183} w={158} h={57} make={upsetMatrixChart} />
      <ChartBox x={250} y={183} w={52} h={70} make={setSizeChart} />

      {/* C */}
      <ChartBox x={472} y={30} w={168} h={220} make={() => volcanoChart([
        { points: postGray, color: '#BEBEBE' },
        { points: postPurple, color: '#C77CFF' },
        { points: postGreen, color: '#7CAE00' },
        { points: postRed, color: '#F8766D' },
      ], 19, 5.8)} />
      <ChartBox x={636} y={30} w={164} h={220} make={() => volcanoChart([
        { points: hourGray, color: '#BEBEBE' },
        { points: hourPurple, color: '#C77CFF' },
        { points: hourGreen, color: '#7CAE00' },
        { points: hourRed, color: '#F8766D' },
      ], 19.5, 1.5)} />

      {/* D */}
      <ChartBox x={geom1.canvasLeft} y={DOT_CANVAS_TOP} w={geom1.canvasRight - geom1.canvasLeft} h={DOT_CANVAS_BOTTOM - DOT_CANVAS_TOP}
        make={() => dotChart(cluster1Terms, cluster1PostNES, cluster1PostP, cluster1HourNES, cluster1HourP, geom1)} />
      <ChartBox x={geom2.canvasLeft} y={DOT_CANVAS_TOP} w={geom2.canvasRight - geom2.canvasLeft} h={DOT_CANVAS_BOTTOM - DOT_CANVAS_TOP}
        make={() => dotChart(cluster2Terms, cluster2PostNES, cluster2PostP, cluster2HourNES, cluster2HourP, geom2)} />
      <ChartBox x={geom3.canvasLeft} y={DOT_CANVAS_TOP} w={geom3.canvasRight - geom3.canvasLeft} h={DOT_CANVAS_BOTTOM - DOT_CANVAS_TOP}
        make={() => dotChart(cluster3Terms, cluster3PostNES, cluster3PostP, cluster3HourNES, cluster3HourP, geom3)} />

      {/* panel letters and titles */}
      <T x={2} y={6} size={13.5} weight="bold" align="left">A</T>
      <T x={124} y={6} size={12.6} weight="bold">Protein clusters in HIIE</T>
      <T x={254} y={6} size={13.5} weight="bold" align="left">B</T>
      <T x={355} y={6} size={12.6} weight="bold">GO term intersection</T>
      <T x={465} y={6} size={13.5} weight="bold" align="left">C</T>
      <T x={633} y={6} size={12.6} weight="bold">Protein changes of shared GO terms</T>
      <T x={2} y={335} size={13.5} weight="bold" align="left">D</T>
      <T x={404} y={335} size={12.6} weight="bold">Cluster-specific enriched GO terms</T>

      {/* A annotations */}
      {clusterNames.map((c, i) => (
        <T key={c} x={i % 2 === 0 ? 79 : 195} y={i < 2 ? 25 : 168} size={12}>{c}</T>
      ))}
      <T x={10} y={87} size={10.5} rotate={-90}>Protein abundance</T>
      <T x={10} y={231} size={10.5} rotate={-90}>Protein abundance</T>
      <T x={80} y={127} size={9.5}>{`${clusterSizes[0]} proteins`}</T>
      <T x={195} y={54} size={9.5}>{`${clusterSizes[1]} proteins`}</T>
      <T x={80} y={268} size={9.5} weight="bold">{`${clusterSizes[2]} proteins`}</T>
      <T x={195} y={268} size={9.5}>{`${clusterSizes[3]} proteins`}</T>

      {/* B annotations */}
      <T x={317} y={92} size={9.5} rotate={-90}># GO terms</T>
      <T x={279} y={257} size={9.5}># GO terms</T>
      <svg style={{ position: 'absolute', left: 350, top: 240, width: 26, height: 24 }} width={26} height={24}>
        <path d="M5 5 V18 H15" stroke="#111" strokeWidth={1.4} fill="none" />
        <polygon points="14,15 19,18 14,21" fill="#111" />
      </svg>
      <T x={373} y={258} size={10} align="left">Shared GO terms</T>

      {/* C annotations */}
      <T x={563} y={25} size={11}>Post HIIE</T>
      <T x={727} y={25} size={11}>1h post HIIE</T>
      <T x={563} y={112} size={10}>369 proteins</T>
      <T x={467} y={132} size={10} rotate={-90}><span>BH p-value (-log{sub('10')})</span></T>
      <T x={563} y={248} size={10}><span>Log{sub('2')} FC</span></T>
      <T x={727} y={248} size={10}><span>Log{sub('2')} FC</span></T>
      <div style={{
        position: 'absolute', left: 267, top: 266, width: 499, height: 43, boxSizing: 'border-box',
        border: '1px solid #555', borderRadius: 3, background: '#F0F0F0',
      }} />
      <T x={516.5} y={287.5} size={10} lh={1.15}>{sharedTerms.join('\n')}</T>

      {/* D legend keys */}
      {[193, 439, 680].map((x, i) => (
        <React.Fragment key={x}>
          <div style={{ position: 'absolute', left: x, top: 347, width: 14, height: 14, background: clusterColors[i] }} />
          <T x={x + 20} y={354.5} size={8.5} align="left" color="#1a1a1a">{clusterNames[i]}</T>
        </React.Fragment>
      ))}

      <Brackets groups={cluster1Groups} n={cluster1Terms.length} g={geom1} />
      <Brackets groups={cluster2Groups} n={cluster2Terms.length} g={geom2} />
      <Brackets groups={cluster3Groups} n={cluster3Terms.length} g={geom3} />

      {/* NES colour bar */}
      <T x={771} y={614} size={10.5}>NES</T>
      <div style={{ position: 'absolute', left: 761, top: 628, width: 16, height: 79, background: gradient }} />
      {[3, 0, -3].map((v) => (
        <React.Fragment key={v}>
          <div style={{ position: 'absolute', left: 761, top: nesToY(v) - 0.5, width: 3, height: 1, background: '#fff' }} />
          <div style={{ position: 'absolute', left: 774, top: nesToY(v) - 0.5, width: 3, height: 1, background: '#fff' }} />
          <T x={781} y={nesToY(v)} size={8.5} align="left" color="#1a1a1a">{String(v)}</T>
        </React.Fragment>
      ))}
      <T x={772} y={732} size={10.5} lh={1.05}><span>BH p-value{'\n'}(-log{sub('10')})</span></T>
      {pLegendValues.map((v, i) => (
        <React.Fragment key={v}>
          <div style={{
            position: 'absolute', left: 762 - bubbleRadius(v), top: 754 + i * 16 - bubbleRadius(v),
            width: bubbleRadius(v) * 2, height: bubbleRadius(v) * 2, borderRadius: '50%',
            border: '0.8px solid #222', boxSizing: 'border-box',
          }} />
          <T x={775} y={754 + i * 16} size={8.5} align="left" color="#1a1a1a">{v.toFixed(1)}</T>
        </React.Fragment>
      ))}
    </div>
  );
}
